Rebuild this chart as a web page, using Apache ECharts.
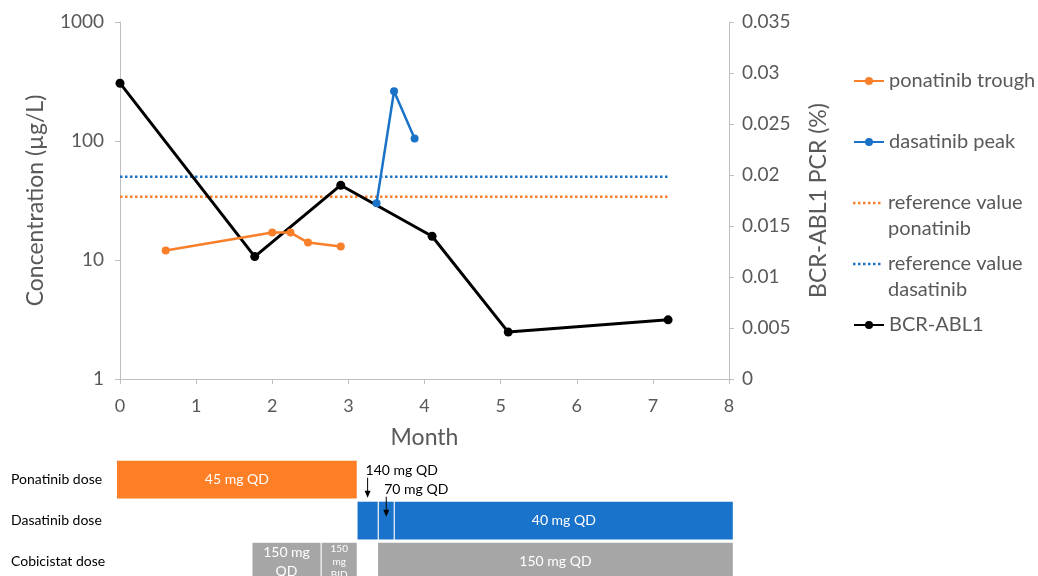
<!DOCTYPE html>
<html>
<head>
<meta charset="utf-8">
<script src="https://cdn.jsdelivr.net/npm/echarts@6/dist/echarts.min.js"></script>
<style>html,body{margin:0;padding:0;background:#fff}#c{width:1038px;height:576px}</style>
</head>
<body>
<div id="c"></div>
<script>
// ---- data ----
const ponatinibTrough = [[0.6, 12], [2.0, 17], [2.24, 17], [2.47, 14], [2.9, 13]];
const dasatinibPeak = [[3.37, 30], [3.6, 262], [3.87, 105]];
const refPonatinib = [[0, 34], [7.2, 34]];
const refDasatinib = [[0, 50], [7.2, 50]];
const bcrAbl1 = [[0, 0.029], [1.77, 0.012], [2.9, 0.019], [4.1, 0.014], [5.1, 0.0046], [7.2, 0.0058]];
const monthTicks = [0, 1, 2, 3, 4, 5, 6, 7, 8];
const doseRows = ['Ponatinib dose', 'Dasatinib dose', 'Cobicistat dose'];
// [start month, end month, row, label, annotation]
const ponatinibDose = [[-0.04, 3.11, 0, '45 mg QD', '']];
const dasatinibDose = [[3.12, 3.385, 1, '', '140 mg QD'], [3.40, 3.595, 1, '', '70 mg QD'], [3.61, 8.05, 1, '40 mg QD', '']];
const cobicistatDose = [[1.74, 2.635, 2, '150 mg\nQD', ''], [2.65, 3.11, 2, '150\nmg\nBID', ''], [3.39, 8.05, 2, '150 mg QD', '']];

const FONT = 'Lato';
const GREY = '#595959';
const ORANGE = '#F97F2A';
const BLUE = '#1B73C8';

function doseRender(color) {
  let annIdx = 0;
  return function (params, api) {
    if (params.dataIndexInside === 0) annIdx = 0;
    const s = api.coord([api.value(0), api.value(2)]);
    const e = api.coord([api.value(1), api.value(2)]);
    const h = api.size([0, 1])[1] * 0.92;
    const top = s[1] - h / 2;
    const w = e[0] - s[0];
    const label = api.value(3);
    const ann = api.value(4);
    const children = [{
      type: 'rect',
      shape: { x: s[0], y: top, width: w, height: h },
      style: { fill: color }
    }];
    if (label) {
      const small = w < 50;
      children.push({
        type: 'text',
        style: {
          text: label, x: s[0] + w / 2, y: s[1], align: 'center', verticalAlign: 'middle',
          fill: '#fff', fontFamily: FONT, fontSize: small ? 10 : 14, lineHeight: small ? 13 : 19
        }
      });
    }
    if (ann) {
      const cx = s[0] + w / 2;
      const ty = top - 31 + 19 * annIdx;
      annIdx++;
      children.push({
        type: 'text',
        style: { text: ann, x: cx - 2, y: ty, align: 'left', verticalAlign: 'middle', fill: '#000', fontFamily: FONT, fontSize: 14 }
      });
      children.push({
        type: 'line',
        shape: { x1: cx, y1: ty + 7, x2: cx, y2: ty + 22 },
        style: { stroke: '#000', lineWidth: 1 }
      });
      children.push({
        type: 'polygon',
        shape: { points: [[cx - 3, ty + 20], [cx + 3, ty + 20], [cx, ty + 27]] },
        style: { fill: '#000' }
      });
    }
    return { type: 'group', children: children };
  };
}

// dotted legend icon aligned with the first text line of a two-line legend label
function dottedIcon(w, h, lineY) {
  let p = 'path://M0,0h0.05v0.05h-0.05Z';
  for (let x = 0; x + 2.5 <= w; x += 5) {
    p += 'M' + x + ',' + (lineY - 1.25) + 'h2.5v2.5h-2.5Z';
  }
  p += 'M' + (w - 0.05) + ',' + (h - 0.05) + 'h0.05v0.05h-0.05Z';
  return p;
}

const LEG_TEXT = { fontFamily: FONT, fontSize: 20, color: GREY };
function legendItem(name, top) {
  return {
    data: [name], left: 853, top: top, padding: 0, itemWidth: 30, itemHeight: 10, itemGap: 0,
    textStyle: Object.assign({ lineHeight: 24 }, LEG_TEXT)
  };
}
function legendItemMulti(name, top) {
  return {
    data: [{ name: name, icon: dottedIcon(30, 52, 13) }], left: 853, top: top, padding: 0,
    itemWidth: 30, itemHeight: 52, itemGap: 0, symbolKeepAspect: false,
    textStyle: Object.assign({ lineHeight: 26 }, LEG_TEXT)
  };
}

const axisLineGrey = { lineStyle: { color: '#BFBFBF', width: 1 } };

const chart = echarts.init(document.getElementById('c'), null, { renderer: 'canvas' });
chart.setOption({
  animation: false,
  backgroundColor: '#fff',
  textStyle: { fontFamily: FONT },
  legend: [
    legendItem('ponatinib trough', 81 - 12),
    legendItem('dasatinib peak', 142 - 12),
    legendItemMulti('reference value\nponatinib', 203 - 13),
    legendItemMulti('reference value\ndasatinib', 264 - 13),
    legendItem('BCR-ABL1', 325 - 12)
  ],
  grid: [
    { left: 120, right: 309, top: 22, bottom: 197 },
    { left: 120, right: 309, top: 459, bottom: 0 }
  ],
  xAxis: [
    {
      type: 'value', gridIndex: 0, min: monthTicks[0], max: monthTicks[monthTicks.length - 1], interval: 1,
      name: 'Month', nameLocation: 'middle', nameGap: 47,
      nameTextStyle: { fontFamily: FONT, fontSize: 23, color: GREY },
      axisLine: axisLineGrey, axisTick: { show: true, length: 5, lineStyle: { color: '#BFBFBF' } },
      splitLine: { show: false },
      axisLabel: { fontFamily: FONT, fontSize: 18, color: GREY, margin: 18 }
    },
    { type: 'value', gridIndex: 1, min: 0, max: 8, show: false }
  ],
  yAxis: [
    {
      type: 'log', gridIndex: 0, logBase: 10, min: 1, max: 1000,
      name: 'Concentration (µg/L)', nameLocation: 'middle', nameGap: 73, nameRotate: 90,
      nameTextStyle: { fontFamily: FONT, fontSize: 23, color: GREY },
      axisLine: { show: true, lineStyle: { color: '#BFBFBF' } },
      axisTick: { show: true, length: 5, lineStyle: { color: '#BFBFBF' } },
      minorTick: { show: false }, splitLine: { show: false },
      axisLabel: { fontFamily: FONT, fontSize: 19, color: GREY, margin: 16, formatter: v => String(Math.round(v)) }
    },
    {
      type: 'value', gridIndex: 0, position: 'right', min: 0, max: 0.035, interval: 0.005,
      name: 'BCR-ABL1 PCR (%)', nameLocation: 'middle', nameGap: 78, nameRotate: 90,
      nameTextStyle: { fontFamily: FONT, fontSize: 23, color: GREY },
      axisLine: { show: true, lineStyle: { color: '#BFBFBF' } },
      axisTick: { show: true, length: 5, lineStyle: { color: '#BFBFBF' } },
      splitLine: { show: false },
      axisLabel: { fontFamily: FONT, fontSize: 19, color: GREY, margin: 13, formatter: v => String(+v.toFixed(3)) }
    },
    {
      type: 'value', gridIndex: 1, min: -0.5, max: 2.35, inverse: true,
      axisLine: { show: false }, axisTick: { show: false }, splitLine: { show: false },
      axisLabel: {
        customValues: doseRows.map((_, i) => i), formatter: v => doseRows[Math.round(v)] || '',
        fontFamily: FONT, fontSize: 14, color: '#000', align: 'left', margin: 109
      }
    }
  ],
  series: [
    {
      name: 'reference value\nponatinib', type: 'line', data: refPonatinib, xAxisIndex: 0, yAxisIndex: 0,
      showSymbol: false, symbol: 'none', lineStyle: { color: ORANGE, width: 2.5, type: [2.5, 2.5] }, itemStyle: { color: ORANGE }, z: 2
    },
    {
      name: 'reference value\ndasatinib', type: 'line', data: refDasatinib, xAxisIndex: 0, yAxisIndex: 0,
      showSymbol: false, symbol: 'none', lineStyle: { color: BLUE, width: 2.5, type: [2.5, 2.5] }, itemStyle: { color: BLUE }, z: 2
    },
    {
      name: 'BCR-ABL1', type: 'line', data: bcrAbl1, xAxisIndex: 0, yAxisIndex: 1,
      symbol: 'circle', symbolSize: 9, lineStyle: { color: '#000', width: 3 }, itemStyle: { color: '#000' }, z: 3
    },
    {
      name: 'ponatinib trough', type: 'line', data: ponatinibTrough, xAxisIndex: 0, yAxisIndex: 0,
      symbol: 'circle', symbolSize: 8, lineStyle: { color: ORANGE, width: 2.5 }, itemStyle: { color: ORANGE }, z: 4
    },
    {
      name: 'dasatinib peak', type: 'line', data: dasatinibPeak, xAxisIndex: 0, yAxisIndex: 0,
      symbol: 'circle', symbolSize: 8, lineStyle: { color: BLUE, width: 2.5 }, itemStyle: { color: BLUE }, z: 4
    },
    {
      type: 'custom', xAxisIndex: 1, yAxisIndex: 2, clip: false, data: ponatinibDose,
      encode: { x: [0, 1], y: 2 }, renderItem: doseRender('#FF7F27'), silent: true
    },
    {
      type: 'custom', xAxisIndex: 1, yAxisIndex: 2, clip: false, data: dasatinibDose,
      encode: { x: [0, 1], y: 2 }, renderItem: doseRender('#1A73CB'), silent: true
    },
    {
      type: 'custom', xAxisIndex: 1, yAxisIndex: 2, clip: false, data: cobicistatDose,
      encode: { x: [0, 1], y: 2 }, renderItem: doseRender('#A6A6A6'), silent: true
    }
  ]
});
</script>
</body>
</html>
